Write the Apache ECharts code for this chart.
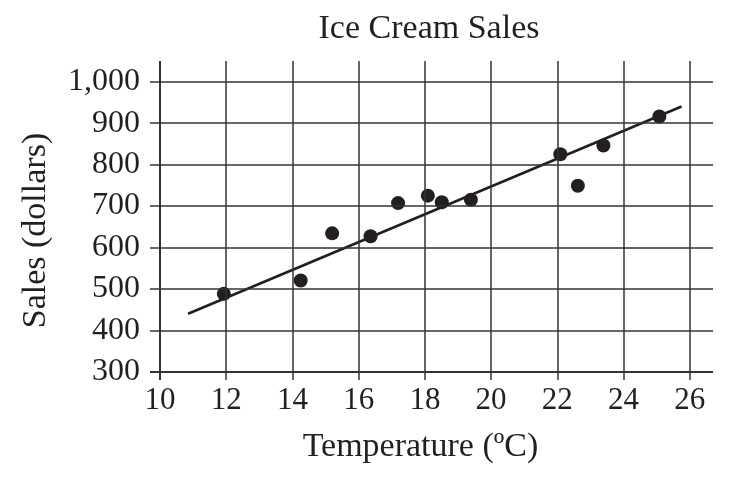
<!DOCTYPE html>
<html>
<head>
<meta charset="utf-8">
<script src="https://cdn.jsdelivr.net/npm/echarts@6/dist/echarts.min.js"></script>
<style>
  html, body { margin: 0; padding: 0; background: #fff; }
  #plot { width: 733px; height: 478px; }
</style>
</head>
<body>
<div id="plot"></div>
<script>
// 数据
const temps = [11.93, 14.25, 15.2, 16.36, 17.19, 18.09, 18.51, 19.39, 22.09, 22.62, 23.39, 25.08];
const sales = [488, 520, 634, 627, 707, 725, 709, 715, 825, 749, 846, 916];
const fitX = [10.85, 25.75];
const fitY = [440, 940];
const xTicks = [10, 12, 14, 16, 18, 20, 22, 24, 26];
const yTicks = [300, 400, 500, 600, 700, 800, 900, 1000];

const ink = '#231f20';
const gridColor = '#333333';
const serif = '"Liberation Serif", "DejaVu Serif", serif';

const points = temps.map(function (t, i) { return [t, sales[i]]; });
const fitLine = fitX.map(function (x, i) { return [x, fitY[i]]; });

// grid lines drawn as markLines so they run past the outer ticks
const gridLines = [];
xTicks.forEach(function (v) {
    gridLines.push({ xAxis: v, lineStyle: { width: v === 10 ? 2 : 1.5 } });
});
yTicks.forEach(function (v) {
    gridLines.push({ yAxis: v, lineStyle: { width: v === 300 ? 2 : 1.5 } });
});

var myChart = echarts.init(document.getElementById('plot'));
var option = {
    animation: false,
    title: {
        text: 'Ice Cream Sales',
        left: 424,
        top: 7,
        textAlign: 'center',
        textStyle: { fontFamily: serif, fontSize: 34, fontWeight: 'normal', color: ink }
    },
    grid: { left: 150, right: 20, top: 61, bottom: 98 },
    xAxis: {
        type: 'value',
        min: 9.7,
        max: 26.7,
        name: 'Temperature (ºC)',
        nameLocation: 'middle',
        nameGap: 50,
        nameTextStyle: { fontFamily: serif, fontSize: 34, color: ink, padding: [0, 22, 0, 0] },
        axisLine: { show: false },
        axisTick: { show: false },
        splitLine: { show: false },
        axisLabel: {
            customValues: xTicks,
            margin: 5,
            fontFamily: serif,
            fontSize: 31,
            color: ink
        }
    },
    yAxis: {
        type: 'value',
        min: 280,
        max: 1050,
        name: 'Sales (dollars)',
        nameLocation: 'middle',
        nameGap: 97,
        nameTextStyle: { fontFamily: serif, fontSize: 34, color: ink, padding: [0, 20, 0, 0] },
        axisLine: { show: false },
        axisTick: { show: false },
        splitLine: { show: false },
        axisLabel: {
            customValues: yTicks,
            margin: 10,
            fontFamily: serif,
            fontSize: 32,
            color: ink,
            formatter: function (v) { return v.toLocaleString('en-US'); }
        }
    },
    series: [
        {
            type: 'line',
            data: [],
            silent: true,
            markLine: {
                silent: true,
                symbol: 'none',
                label: { show: false },
                lineStyle: { color: gridColor, type: 'solid', width: 1.5 },
                data: gridLines
            }
        },
        {
            type: 'line',
            data: fitLine,
            symbol: 'none',
            lineStyle: { color: ink, width: 2.6 },
            z: 3
        },
        {
            type: 'scatter',
            data: points,
            symbolSize: 14,
            itemStyle: { color: ink, opacity: 1 },
            z: 4
        }
    ]
};
myChart.setOption(option);
</script>
</body>
</html>
